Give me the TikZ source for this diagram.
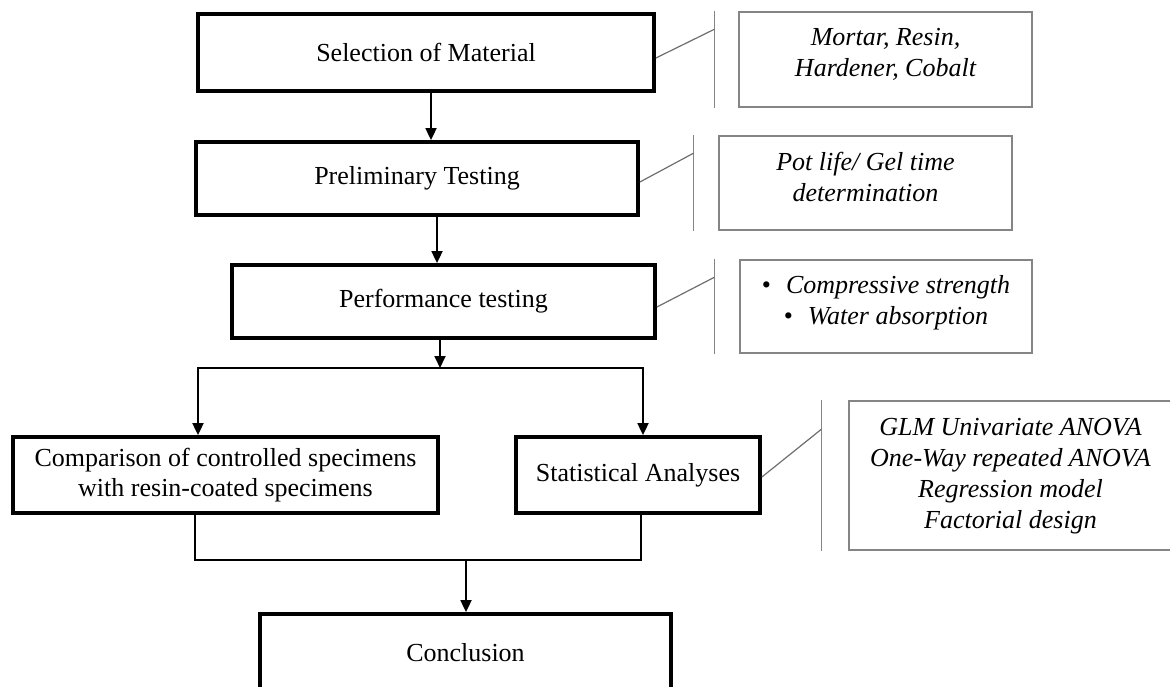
\documentclass[tikz,border=0pt]{standalone}
\usepackage{fontspec}
\setmainfont{Liberation Serif}
\usetikzlibrary{arrows.meta,calc}
\definecolor{thinc}{HTML}{858585}
\definecolor{linkc}{HTML}{6E6E6E}
\begin{document}
\begin{tikzpicture}[x=1pt,y=-1pt,
  mainbox/.style={draw=black,line width=3.8pt,fill=white,inner sep=0pt,align=center,font=\fontsize{26}{30}\selectfont},
  infobox/.style={draw=thinc,line width=1.4pt,inner sep=0pt},
  infotext/.style={font=\fontsize{26}{31}\selectfont\itshape,align=center,inner sep=0pt},
  bar/.style={draw=thinc,line width=1.4pt},
  link/.style={draw=linkc,line width=1.2pt},
  arr/.style={draw=black,line width=1.8pt,-{Triangle[width=11pt,length=12pt]}},
  wire/.style={draw=black,line width=1.8pt}
]
\useasboundingbox (0,0) rectangle (1170,686);
\clip (0,0) rectangle (1170,686);

% main flow boxes
\node[mainbox,minimum width=456pt,minimum height=77pt] (sel) at (426,52.5) {Selection of Material};
\node[mainbox,minimum width=442pt,minimum height=73pt] (prel) at (417,178.5) {Preliminary Testing};
\node[mainbox,minimum width=423pt,minimum height=73pt] (perf) at (443.5,301.5) {Performance testing};
\node[mainbox,minimum width=425pt,minimum height=76pt] (comp) at (225.5,475) {Comparison of controlled specimens\\with resin-coated specimens};
\node[mainbox,minimum width=244pt,minimum height=76pt] (stat) at (638,475) {Statistical Analyses};
\node[mainbox,minimum width=411pt,minimum height=78pt] (concl) at (465.5,653) {Conclusion};

% side boxes
\node[infobox,minimum width=293pt,minimum height=95pt] (mb) at (885.5,59.5) {};
\node[infotext,anchor=north] (mt) at ([yshift=-17pt]mb.north) {Mortar, Resin,\\Hardener, Cobalt};
\node[infobox,minimum width=293pt,minimum height=94pt] (pb) at (865.5,183) {};
\node[infotext,anchor=north] (pt) at ([yshift=-16.5pt]pb.north) {Pot life/ Gel time\\determination};
\node[infobox,minimum width=292pt,minimum height=93pt] (cb) at (886,306.5) {};
\node[infotext,anchor=north] (ct) at ([yshift=-15.5pt]cb.north) {{\upshape\textbullet}\hspace{15pt}Compressive strength\\{\upshape\textbullet}\hspace{15pt}Water absorption};
\node[infobox,minimum width=323pt,minimum height=149pt] (gb) at (1010.5,475.5) {};
\node[infotext,anchor=north] (gt) at ([yshift=-18pt]gb.north) {GLM Univariate ANOVA\\One-Way repeated ANOVA\\Regression model\\Factorial design};

% bracket bars
\coordinate (mv1) at ([xshift=-24pt]mb.north west);
\coordinate (mv2) at ([xshift=-24pt]mb.south west);
\coordinate (pv1) at ([xshift=-25pt]pb.north west);
\coordinate (pv2) at ([xshift=-25pt]pb.south west);
\coordinate (cv1) at ([xshift=-25pt]cb.north west);
\coordinate (cv2) at ([xshift=-25pt]cb.south west);
\coordinate (gv1) at ([xshift=-27pt]gb.north west);
\coordinate (gv2) at ([xshift=-27pt]gb.south west);
\draw[bar] (mv1) -- (mv2);
\draw[bar] (pv1) -- (pv2);
\draw[bar] (cv1) -- (cv2);
\draw[bar] (gv1) -- (gv2);

% side links
\draw[link] ([yshift=-5.5pt]sel.east) -- ([yshift=-18pt]mv1);
\draw[link] ([yshift=-3.5pt]prel.east) -- ([yshift=-18pt]pv1);
\draw[link] ([yshift=-5.5pt]perf.east) -- ([yshift=-18pt]cv1);
\draw[link] ([yshift=-2pt]stat.east) -- ([yshift=-29pt]gv1);

% flow arrows
\draw[arr] ([xshift=5pt]sel.south) -- ([xshift=5pt]sel.south |- prel.north);
\draw[arr] ([xshift=20pt]prel.south) -- ([xshift=20pt]prel.south |- perf.north);

\coordinate (fk) at (440,368);
\coordinate (fl) at (198,368);
\coordinate (fr) at (643,368);
\draw[arr] (perf.south -| fk) -- (fk);
\draw[arr] (fk) -- (fl) -- (fl |- comp.north);
\draw[arr] (fk) -- (fr) -- (fr |- stat.north);

\coordinate (jl) at (195,560);
\coordinate (jr) at (641,560);
\coordinate (jm) at (466,560);
\draw[wire] (jl |- comp.south) -- (jl) -- (jr) -- (jr |- stat.south);
\draw[arr] (jm) -- (jm |- concl.north);
\end{tikzpicture}
\end{document}
